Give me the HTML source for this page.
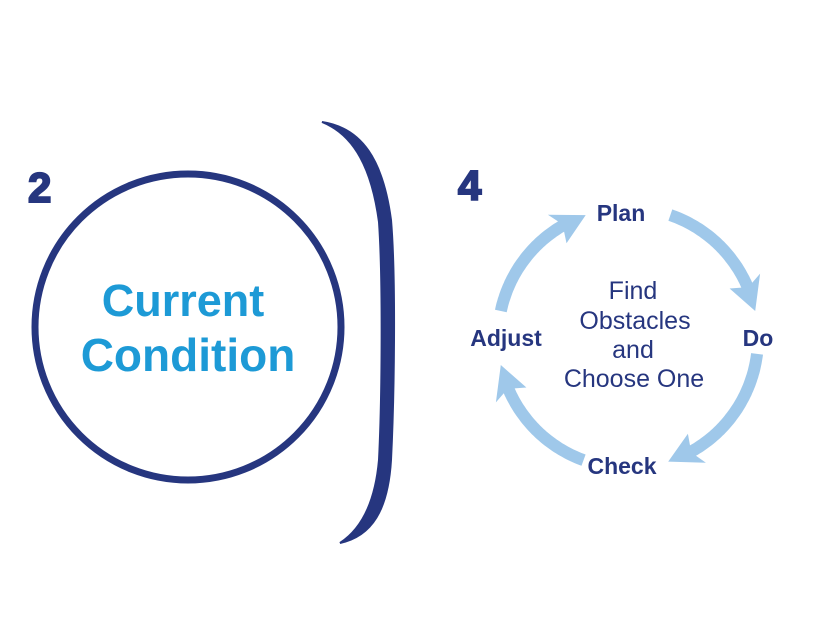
<!DOCTYPE html>
<html><head><meta charset="utf-8"><style>
html,body{margin:0;padding:0;background:#fff;}
svg{display:block;}
</style></head><body>
<svg id="s" width="820" height="640" viewBox="0 0 820 640" xmlns="http://www.w3.org/2000/svg">
<rect width="820" height="640" fill="#fff"/>
<text x="28" y="202" font-family="Liberation Sans, sans-serif" font-weight="bold" font-size="42" fill="#26367f" stroke="#26367f" stroke-width="2">2</text>
<circle cx="188" cy="327" r="153" fill="none" stroke="#26367f" stroke-width="7"/>
<text x="183" y="316" text-anchor="middle" font-family="Liberation Sans, sans-serif" font-weight="bold" font-size="45" fill="#1d9ad6">Current</text>
<text x="188" y="371" text-anchor="middle" font-family="Liberation Sans, sans-serif" font-weight="bold" font-size="46" fill="#1d9ad6">Condition</text>
<path d="M322,122 C362,128 383,160 391,220 C396,280 394,400 391,460 C388,510 372,536 340,543 C360,530 375,505 379,460 C382,400 383,280 379,222 C372,170 355,135 322,122 Z" fill="#26367f" stroke="#26367f" stroke-width="2"/>
<text x="458" y="200" font-family="Liberation Sans, sans-serif" font-weight="bold" font-size="42" fill="#26367f" stroke="#26367f" stroke-width="2">4</text>
<g id="arrows" fill="#9fc8ea"></g>
<g font-family="Liberation Sans, sans-serif" font-weight="bold" font-size="23" fill="#26367f">
<text x="621" y="221" text-anchor="middle">Plan</text>
<text x="758" y="346" text-anchor="middle">Do</text>
<text x="506" y="346" text-anchor="middle">Adjust</text>
<text x="622" y="474" text-anchor="middle">Check</text>
</g>
<g font-family="Liberation Sans, sans-serif" font-size="25" fill="#26367f" text-anchor="middle">
<text x="633" y="299">Find</text>
<text x="635" y="329">Obstacles</text>
<text x="633" y="358">and</text>
<text x="634" y="387">Choose One</text>
</g>
</svg>
<script>
(function(){
var cx=628,cy=338,r=130,g=document.getElementById('arrows');
function P(t,rr){var a=t*Math.PI/180;return [cx+rr*Math.sin(a),cy-rr*Math.cos(a)];}
var arcs=[[19,78],[97,162],[200,258],[282,341]];
var hw=6,hl=12,hb=17;
arcs.forEach(function(a){
 var s=a[0],e=a[1],m=e-hl;
 var pts=[];
 for(var t=s;t<=m;t+=1)pts.push(P(t,r+hw));
 pts.push(P(m,r+hw));
 var inn=[];
 for(var t=m;t>=s;t-=1)inn.push(P(t,r-hw));
 inn.push(P(s,r-hw));
 var all=pts.concat([P(m-2,r+hb),P(e,r),P(m-2,r-hb)]).concat(inn);
 var d='M'+all.map(function(p){return p[0].toFixed(1)+','+p[1].toFixed(1);}).join(' L')+' Z';
 var el=document.createElementNS('http://www.w3.org/2000/svg','path');
 el.setAttribute('d',d);g.appendChild(el);
});
})();
</script>
</body></html>
